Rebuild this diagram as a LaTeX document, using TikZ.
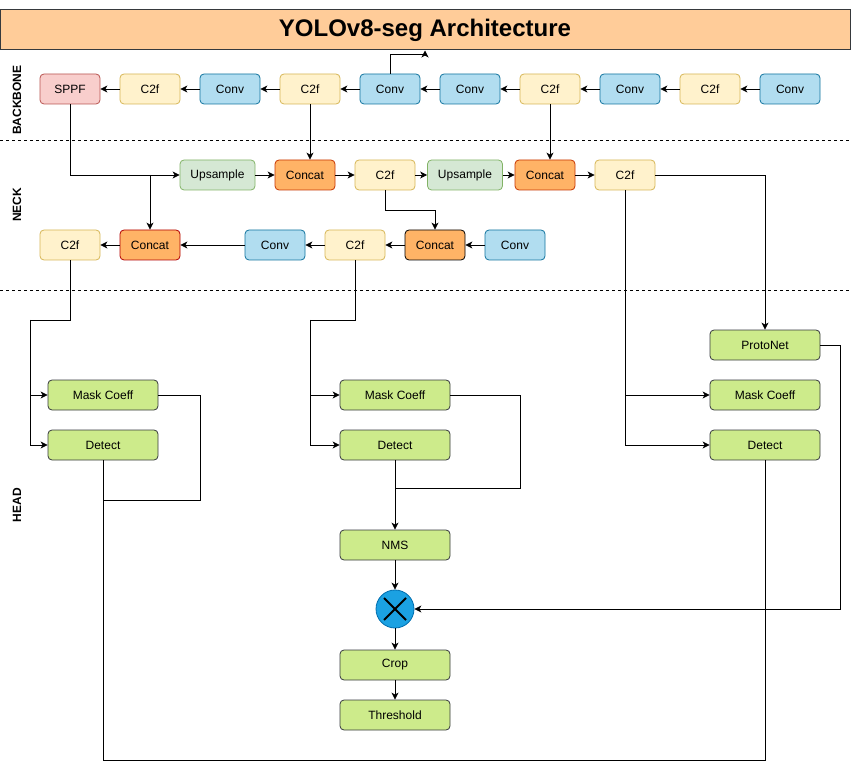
\documentclass[tikz,border=0pt]{standalone}
\usepackage{fontspec}
\setmainfont{Liberation Sans}
\usetikzlibrary{arrows.meta}
\definecolor{titlefill}{HTML}{FFCC99}
\definecolor{darkline}{HTML}{36393D}
\definecolor{convfill}{HTML}{B1DDF0}
\definecolor{convline}{HTML}{10739E}
\definecolor{cfill}{HTML}{FFF2CC}
\definecolor{cline}{HTML}{D6B656}
\definecolor{sppffill}{HTML}{F8CECC}
\definecolor{sppfline}{HTML}{B85450}
\definecolor{upfill}{HTML}{D5E8D4}
\definecolor{upline}{HTML}{82B366}
\definecolor{catfill}{HTML}{FFB366}
\definecolor{catline}{HTML}{C73500}
\definecolor{catred}{HTML}{B20000}
\definecolor{headfill}{HTML}{CDEB8B}
\definecolor{mulfill}{HTML}{1BA1E2}
\definecolor{mulline}{HTML}{006EAF}

\tikzset{
  blk/.style={draw, rounded corners=4pt, minimum width=60pt, minimum height=30pt,
    inner sep=0pt, line width=0.8pt, font=\fontsize{12}{14}\selectfont},
  convbox/.style={blk, fill=convfill, draw=convline},
  cbox/.style={blk, fill=cfill, draw=cline},
  sppfbox/.style={blk, fill=sppffill, draw=sppfline},
  upbox/.style={blk, fill=upfill, draw=upline, minimum width=75pt},
  catbox/.style={blk, fill=catfill, draw=catline},
  headbox/.style={blk, fill=headfill, draw=darkline, minimum width=110pt},
  arr/.style={-{Stealth[length=7pt,width=7pt,inset=2pt]}, line width=0.8pt},
  lane/.style={rotate=90, font=\bfseries\fontsize{12}{14}\selectfont},
  sep/.style={dash pattern=on 3pt off 3pt, line width=0.8pt}
}

\begin{document}
\begin{tikzpicture}[x=1pt, y=-1pt]
\useasboundingbox (0,0) rectangle (852,762);

\node[draw=darkline, fill=titlefill, line width=1pt, minimum width=850pt, minimum height=40pt,
  font=\bfseries\fontsize{24}{28}\selectfont] (title) at (425,30) {YOLOv8-seg Architecture};

\draw[sep] (0,140) -- (852,140);
\draw[sep] (0,290) -- (852,290);
\node[lane] (lbb) at (17,100) {BACKBONE};
\node[lane] (lnk) at (17,205) {NECK};
\node[lane] (lhd) at (17,505) {HEAD};

\foreach \i/\x/\s/\t in {1/70/sppfbox/SPPF, 2/150/cbox/C2f, 3/230/convbox/Conv, 4/310/cbox/C2f,
  5/390/convbox/Conv, 6/470/convbox/Conv, 7/550/cbox/C2f, 8/630/convbox/Conv, 9/710/cbox/C2f,
  10/790/convbox/Conv}
  \node[\s] (bb\i) at (\x,89) {\t};
\foreach \i [evaluate=\i as \j using int(\i+1)] in {1,...,9}
  \draw[arr] (bb\j.west) -- (bb\i.east);
\draw[arr] (bb5.north) -- ++(0,-19) -| (title.south);

\node[upbox] (nu1) at (217.5,175) {Upsample};
\node[catbox] (nc1) at (305,175) {Concat};
\node[cbox] (nf1) at (385,175) {C2f};
\node[upbox] (nu2) at (465,175) {Upsample};
\node[catbox] (nc2) at (545,175) {Concat};
\node[cbox] (nf2) at (625,175) {C2f};

\node[cbox] (nf3) at (70,245) {C2f};
\node[catbox, draw=catred] (nc3) at (150,245) {Concat};
\node[convbox] (nv1) at (275,245) {Conv};
\node[cbox] (nf4) at (355,245) {C2f};
\node[catbox, draw=black] (nc4) at (435,245) {Concat};
\node[convbox] (nv2) at (515,245) {Conv};

\node[headbox] (lmask) at (103,395) {Mask Coeff};
\node[headbox] (ldet) at (103,445) {Detect};
\node[headbox] (mmask) at (395,395) {Mask Coeff};
\node[headbox] (mdet) at (395,445) {Detect};
\node[headbox] (proto) at (765,345) {ProtoNet};
\node[headbox] (rmask) at (765,395) {Mask Coeff};
\node[headbox] (rdet) at (765,445) {Detect};
\node[headbox] (nms) at (395,545) {NMS};
\node[circle, fill=mulfill, draw=mulline, line width=0.8pt, minimum size=38pt, inner sep=0pt] (mul) at (395,609) {};
\draw[line width=1.8pt] ([shift={(-11pt,-11pt)}]mul.center) -- ([shift={(11pt,11pt)}]mul.center);
\draw[line width=1.8pt] ([shift={(-11pt,11pt)}]mul.center) -- ([shift={(11pt,-11pt)}]mul.center);
\node[headbox] (crop) at (395,665) {Crop};
\node[headbox] (thr) at (395,715) {Threshold};

\draw[arr] (bb1.south) |- (nu1.west);
\draw[arr] (nc3.north |- nu1.west) -- (nc3.north);
\draw[arr] (nu1) -- (nc1);
\draw[arr] (bb4.south) -- (bb4.south |- nc1.north);
\draw[arr] (nc1) -- (nf1);
\draw[arr] (nf1) -- (nu2);
\draw[arr] (nf1.south) -- ++(0,20) -| (nc4.north);
\draw[arr] (nu2) -- (nc2);
\draw[arr] (bb7.south) -- (bb7.south |- nc2.north);
\draw[arr] (nc2) -- (nf2);
\draw[arr] (nf2.east) -| (proto.north);
\draw[arr] (nf2.south) |- (rdet.west);
\draw[arr] (nf2.south |- rmask.west) -- (rmask.west);

\draw[arr] (nv2) -- (nc4);
\draw[arr] (nc4) -- (nf4);
\draw[arr] (nf4) -- (nv1);
\draw[arr] (nv1) -- (nc3);
\draw[arr] (nc3) -- (nf3);

\coordinate (lsplit) at (30,320);
\coordinate (msplit) at (310,320);
\draw[line width=0.8pt] (nf3.south) |- (lsplit);
\draw[arr] (lsplit) |- (ldet.west);
\draw[arr] (lsplit |- lmask.west) -- (lmask.west);
\draw[line width=0.8pt] (nf4.south) |- (msplit);
\draw[arr] (msplit) |- (mdet.west);
\draw[arr] (msplit |- mmask.west) -- (mmask.west);

\draw[line width=0.8pt] (lmask.east) -- ++(42,0) -- ++(0,105) -| (ldet.south);
\draw[line width=0.8pt] (ldet.south) -- ++(0,300) -| (rdet.south);
\draw[line width=0.8pt] (mmask.east) -- ++(70,0) -- ++(0,93) -| (mdet.south);
\draw[arr] (mdet) -- (nms);
\draw[arr] (nms) -- (mul);
\draw[arr] (mul) -- (crop);
\draw[arr] (crop) -- (thr);
\draw[arr] (proto.east) -- ++(20,0) |- (mul.east);
\end{tikzpicture}
\end{document}
